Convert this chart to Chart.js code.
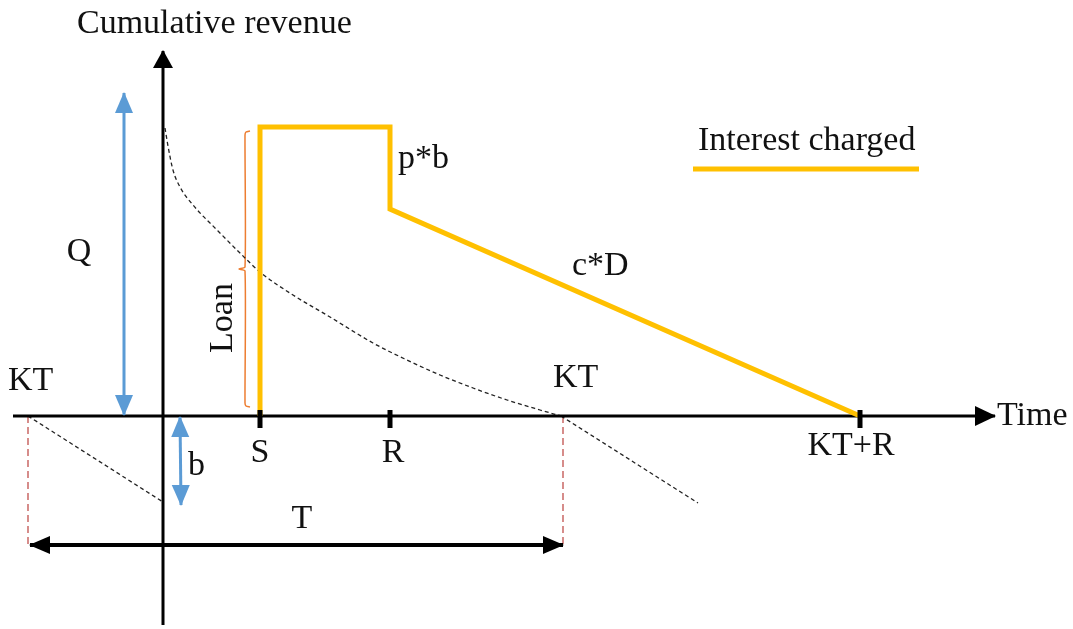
<!DOCTYPE html>
<html>
<head>
<meta charset="utf-8">
<script src="https://cdn.jsdelivr.net/npm/chart.js@4.4.1/dist/chart.umd.min.js"></script>
<style>
  html, body { margin: 0; padding: 0; background: #fff; }
  canvas { display: block; }
</style>
</head>
<body>
<canvas id="chart" width="1073" height="629"></canvas>
<script>
// time is 0 at the vertical axis, revenue is 0 at the time axis
const tickLabels = ["S", "R", "KT+R"];
const tickTimes = [97, 227, 697];

const interestTime = [97, 97, 227, 227, 697];
const interestValue = [0, 289, 289, 207, 0];

const revenueTime = [2, 5, 10, 17, 30, 55, 79, 97, 130, 167, 210, 244, 277, 310, 344, 377, 398];
const revenueValue = [288, 270, 246, 229, 211, 185, 161, 144, 121, 99, 73, 56, 41, 28, 16, 6, 0];

const afterTime = [398, 535];
const afterValue = [0, -87];
const beforeTime = [-135, 0];
const beforeValue = [0, -86];

const periodRange = [-133, 400];   // T
const periodLevel = -129;
const qTime = -39;
const qRange = [1, 323];
const bTime = 17;
const bRange = [-1, -89];
const loanTime = 82;
const loanRange = [9, 285];

const timeAxis = [-150, 832];
const revenueAxis = [-209, 365];

const legendRange = [530, 756];
const legendLevel = 247;

const YELLOW = "#FFC000";
const BLUE = "#5B9BD5";
const ORANGE = "#ED7D31";
const RED = "#C0504D";
const FONT = "34px 'Liberation Serif', 'Times New Roman', serif";

function pts(xs, ys) {
  return xs.map((x, i) => ({ x: x, y: ys[i] }));
}

const tickData = [];
tickTimes.forEach(t => {
  tickData.push({ x: t, y: 6 }, { x: t, y: -12 }, { x: t, y: null });
});

const loanMid = (loanRange[0] + loanRange[1]) / 2;
const braceData = [
  { x: loanTime + 5, y: loanRange[1] },
  { x: loanTime + 1, y: loanRange[1] - 1 },
  { x: loanTime, y: loanRange[1] - 4 },
  { x: loanTime, y: loanMid + 2 },
  { x: loanTime - 6, y: loanMid },
  { x: loanTime, y: loanMid - 2 },
  { x: loanTime, y: loanRange[0] + 4 },
  { x: loanTime + 1, y: loanRange[0] + 1 },
  { x: loanTime + 5, y: loanRange[0] }
];

function seg(color, width, data, extra) {
  return Object.assign({
    data: data,
    borderColor: color,
    backgroundColor: color,
    borderWidth: width,
    pointRadius: 0,
    fill: false,
    tension: 0,
    spanGaps: false
  }, extra || {});
}

const notes = [
  { text: "Cumulative revenue", t: -86, v: 383, align: "left" },
  { text: "Interest charged", t: 535, v: 266, align: "left" },
  { text: "p*b", t: 235, v: 248, align: "left" },
  { text: "c*D", t: 409, v: 141, align: "left" },
  { text: "KT", t: -155, v: 26, align: "left" },
  { text: "KT", t: 390, v: 29, align: "left" },
  { text: tickLabels[0], t: tickTimes[0], v: -46, align: "center" },
  { text: tickLabels[1], t: tickTimes[1] + 3, v: -46, align: "center" },
  { text: tickLabels[2], t: tickTimes[2] - 9, v: -39, align: "center" },
  { text: "Time", t: 834, v: -9, align: "left" },
  { text: "Q", t: -84, v: 155, align: "center" },
  { text: "b", t: 25, v: -59, align: "left" },
  { text: "T", t: 139, v: -112, align: "center" },
  { text: "Loan", t: 69, v: 98, align: "center", rotate: true }
];

const arrowHeads = {
  id: "arrowHeads",
  afterDatasetsDraw(chart) {
    const ctx = chart.ctx;
    chart.data.datasets.forEach((ds, i) => {
      if (!ds.heads) return;
      const p = chart.getDatasetMeta(i).data;
      const ends = [];
      if (ds.heads.start) ends.push([p[0], p[1]]);
      if (ds.heads.end) ends.push([p[p.length - 1], p[p.length - 2]]);
      ends.forEach(([tip, from]) => {
        const a = Math.atan2(tip.y - from.y, tip.x - from.x);
        ctx.save();
        ctx.translate(tip.x, tip.y);
        ctx.rotate(a);
        ctx.beginPath();
        ctx.moveTo(1, 0);
        ctx.lineTo(-ds.heads.len, -ds.heads.half);
        ctx.lineTo(-ds.heads.len, ds.heads.half);
        ctx.closePath();
        ctx.fillStyle = ds.borderColor;
        ctx.fill();
        ctx.restore();
      });
    });
  }
};

const textNotes = {
  id: "textNotes",
  afterDraw(chart) {
    const ctx = chart.ctx;
    const xs = chart.scales.x, ys = chart.scales.y;
    ctx.save();
    ctx.font = FONT;
    ctx.fillStyle = "#111";
    ctx.textBaseline = "alphabetic";
    notes.forEach(n => {
      const px = xs.getPixelForValue(n.t);
      const py = ys.getPixelForValue(n.v);
      ctx.textAlign = n.align;
      if (n.rotate) {
        ctx.save();
        ctx.translate(px, py);
        ctx.rotate(-Math.PI / 2);
        ctx.fillText(n.text, 0, 0);
        ctx.restore();
      } else {
        ctx.fillText(n.text, px, py);
      }
    });
    ctx.restore();
  }
};

new Chart(document.getElementById("chart"), {
  type: "line",
  data: {
    datasets: [
      seg("#000", 5, tickData),
      seg(YELLOW, 5, pts(interestTime, interestValue), { borderJoinStyle: "miter" }),
      seg(BLUE, 3, [{ x: qTime, y: qRange[0] }, { x: qTime, y: qRange[1] }], { heads: { start: true, end: true, len: 20, half: 9 } }),
      seg(BLUE, 3, [{ x: bTime, y: bRange[0] }, { x: bTime + 1, y: bRange[1] }], { heads: { start: true, end: true, len: 20, half: 9 } }),
      seg("#000", 3, [{ x: 0, y: revenueAxis[0] }, { x: 0, y: revenueAxis[1] }], { heads: { end: true, len: 17, half: 10 } }),
      seg("#000", 3, [{ x: timeAxis[0], y: 0 }, { x: timeAxis[1], y: 0 }], { heads: { end: true, len: 20, half: 10 } }),
      seg("#000", 4, [{ x: periodRange[0], y: periodLevel }, { x: periodRange[1], y: periodLevel }], { heads: { start: true, end: true, len: 20, half: 9 } }),
      seg("#222", 1.3, pts(revenueTime, revenueValue), { borderDash: [4, 3], cubicInterpolationMode: "monotone" }),
      seg("#222", 1.3, pts(afterTime, afterValue), { borderDash: [4, 3] }),
      seg("#222", 1.3, pts(beforeTime, beforeValue), { borderDash: [4, 3] }),
      seg(RED, 1.3, [{ x: periodRange[0] - 2, y: 0 }, { x: periodRange[0] - 2, y: periodLevel }], { borderDash: [7, 4] }),
      seg(RED, 1.3, [{ x: periodRange[1], y: 0 }, { x: periodRange[1], y: periodLevel }], { borderDash: [7, 4] }),
      seg(ORANGE, 1.5, braceData, { tension: 0.2 }),
      seg(YELLOW, 5, [{ x: legendRange[0], y: legendLevel }, { x: legendRange[1], y: legendLevel }])
    ]
  },
  options: {
    responsive: false,
    animation: false,
    events: [],
    layout: { padding: 0 },
    plugins: { legend: { display: false }, tooltip: { enabled: false } },
    scales: {
      x: { type: "linear", display: false, min: -163, max: 910 },
      y: { type: "linear", display: false, min: -213, max: 416 }
    }
  },
  plugins: [arrowHeads, textNotes]
});
</script>
</body>
</html>
